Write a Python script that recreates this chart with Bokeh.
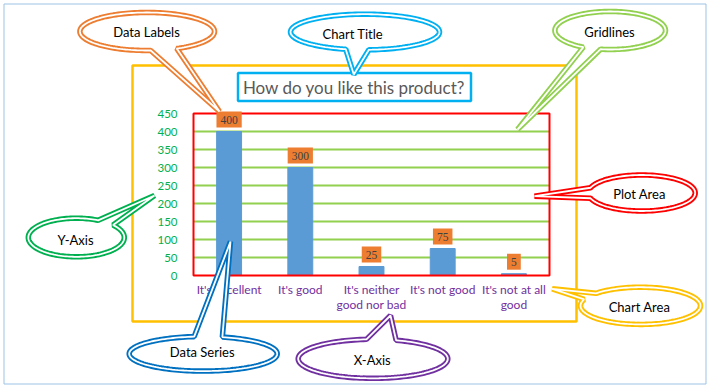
import numpy as np
from bokeh.plotting import figure
from bokeh.models import (Range1d, FixedTicker, PolyAnnotation, BoxAnnotation,
                          Label, LabelSet, ColumnDataSource)
from bokeh.embed import file_html
from bokeh.resources import INLINE

# ---------------- data ----------------
categories = ["It's excellent", "It's good", "It's neither good nor bad",
              "It's not good", "It's not at all good"]
tick_labels = ["It's excellent", "It's good", "It's neither\ngood nor bad",
               "It's not good", "It's not at all\ngood"]
values = [400, 300, 25, 75, 5]
y_ticks = [0, 50, 100, 150, 200, 250, 300, 350, 400, 450]
chart_title = "How do you like this product?"
callout_texts = ["Data Labels", "Chart Title", "Gridlines", "Plot Area",
                 "Chart Area", "Y-Axis", "Data Series", "X-Axis"]

FONT = "Lato"
W, H = 707, 385
# layout: where the plot area sits on the canvas (pixels)
PL, PR, PT, PB = 193, 549, 113, 275

n = len(categories)
ymax = y_ticks[-1]
xpos = [i + 0.5 for i in range(n)]
sx = (PR - PL) / n          # pixels per category
sy = (PB - PT) / ymax       # pixels per value unit

p = figure(width=W, height=H,
           x_range=Range1d(-PL / sx, (W - PL) / sx),
           y_range=Range1d(-(H - PB) / sy, PB / sy),
           output_backend="svg", toolbar_location=None,
           min_border=0)
p.background_fill_color = "white"
p.border_fill_color = "white"
p.outline_line_color = None
p.xgrid.visible = False
p.ygrid.visible = False

p.yaxis.fixed_location = 0
p.yaxis.bounds = (0, ymax)
p.yaxis.ticker = FixedTicker(ticks=y_ticks)
p.yaxis.major_label_text_color = "#00B050"
p.yaxis.major_label_text_font = FONT
p.yaxis.major_label_text_font_size = "11.5px"
p.yaxis.axis_line_color = "#00B050"
p.yaxis.major_tick_line_color = None
p.yaxis.minor_tick_line_color = None
p.yaxis.major_label_standoff = 10

p.xaxis.fixed_location = 0
p.xaxis.bounds = (0, n)
p.xaxis.ticker = FixedTicker(ticks=xpos)
p.xaxis.major_label_overrides = {x: t for x, t in zip(xpos, tick_labels)}
p.xaxis.major_label_text_color = "#7030A0"
p.xaxis.major_label_text_font = FONT
p.xaxis.major_label_text_font_size = "12px"
p.xaxis.major_label_text_line_height = 1.04
p.xaxis.axis_line_color = None
p.xaxis.major_tick_line_color = None
p.xaxis.minor_tick_line_color = None
p.xaxis.major_label_standoff = 0

# gridlines across the plot area
grid_y = y_ticks[1:-1]
p.segment(x0=[0] * len(grid_y), x1=[n] * len(grid_y), y0=grid_y, y1=grid_y,
          line_color="#92D050", line_width=2)

src = ColumnDataSource(dict(x=xpos, cat=categories, val=values,
                            txt=[str(v) for v in values]))
p.vbar(x="x", top="val", width=0.35, color="#5B9BD5", source=src)

# plot area border
p.add_layout(BoxAnnotation(left=0, right=n, bottom=0, top=ymax, fill_color=None,
                           line_color="#FF0000", line_alpha=1, line_width=2))

p.add_layout(LabelSet(x="x", y="val", text="txt", source=src, y_offset=8,
                      text_align="center", text_baseline="bottom",
                      background_fill_color="#ED7D31", border_line_color="#ED7D31",
                      border_line_width=8, border_line_join="miter",
                      text_color="#404040", text_font=FONT, text_font_size="11.5px"))

U = "canvas"


def box(left, right, top, bottom, **kw):
    return BoxAnnotation(left=left, right=right, top=top, bottom=bottom,
                         left_units=U, right_units=U, top_units=U, bottom_units=U,
                         line_alpha=1, **kw)


def label(x, y, text, **kw):
    return Label(x=x, y=y, x_units=U, y_units=U, text=text, **kw)


# outer picture border
p.add_layout(box(3.5, 705.5, 3.5, 383.5, fill_color=None, line_color="#9DC3E6", line_width=1))
# chart area
p.add_layout(box(132, 576, 65, 321, fill_color=None, line_color="#FFC000", line_width=2.5))
# title box
p.add_layout(box(237.5, 470.5, 72.5, 100.5, fill_color="white", fill_alpha=1,
                 line_color="#00B0F0", line_width=2.5))
p.add_layout(label(353.5, 86.5, chart_title, text_align="center",
                   text_baseline="middle", text_color="#595959", text_font=FONT,
                   text_font_size="17px"))

# callouts: (cx, cy, rx, ry, a1, a2, tip, color, text position)
callouts = [
    (146.7, 31, 67.3, 19, 64, 87, (219, 111), "#ED7D31", (146, 31.7)),
    (364.5, 31.5, 74.5, 17.8, 87, 105, (353.3, 74), "#00B0F0", (352.3, 33.3)),
    (609.7, 30, 55.3, 19, 100, 119, (517, 129), "#92D050", (609, 31.7)),
    (641.2, 192.5, 53.5, 18, 163, 197, (534, 195.7), "#FF0000", (639, 193.7)),
    (640, 305.3, 60, 18.6, 200, 222, (551.7, 288.3), "#FFC000", (639, 306.7)),
    (75.8, 237, 48, 19.3, 297, 320, (154, 195), "#00B050", (75, 239.3)),
    (202.7, 353.3, 74, 17.3, 263, 285, (230, 241), "#0070C0", (201.7, 351.7)),
    (372.5, 358.3, 74.8, 19.5, 265, 288, (390, 315), "#7030A0", (371.7, 359.3)),
]


def callout_shape(cx, cy, rx, ry, a1, a2, tip, npts=140):
    ts = np.radians(np.linspace(a2, a1 + 360, npts))
    xs = [float(v) for v in cx + rx * np.cos(ts)] + [tip[0]]
    ys = [float(v) for v in cy + ry * np.sin(ts)] + [tip[1]]
    return xs, ys


for (cx, cy, rx, ry, a1, a2, tip, col, tpos), txt in zip(callouts, callout_texts):
    xs, ys = callout_shape(cx, cy, rx, ry, a1, a2, tip)
    p.add_layout(PolyAnnotation(xs=xs, ys=ys, xs_units=U, ys_units=U,
                                fill_color="white", fill_alpha=1,
                                line_color=col, line_alpha=1, line_width=5.5))
    p.add_layout(PolyAnnotation(xs=xs, ys=ys, xs_units=U, ys_units=U, fill_color=None,
                                line_color="white", line_alpha=1, line_width=1.8))
    p.add_layout(label(tpos[0], tpos[1], txt, text_align="center",
                       text_baseline="middle", text_color="black", text_font=FONT,
                       text_font_size="13px"))

open("out.html", "w").write(file_html(p, INLINE))
